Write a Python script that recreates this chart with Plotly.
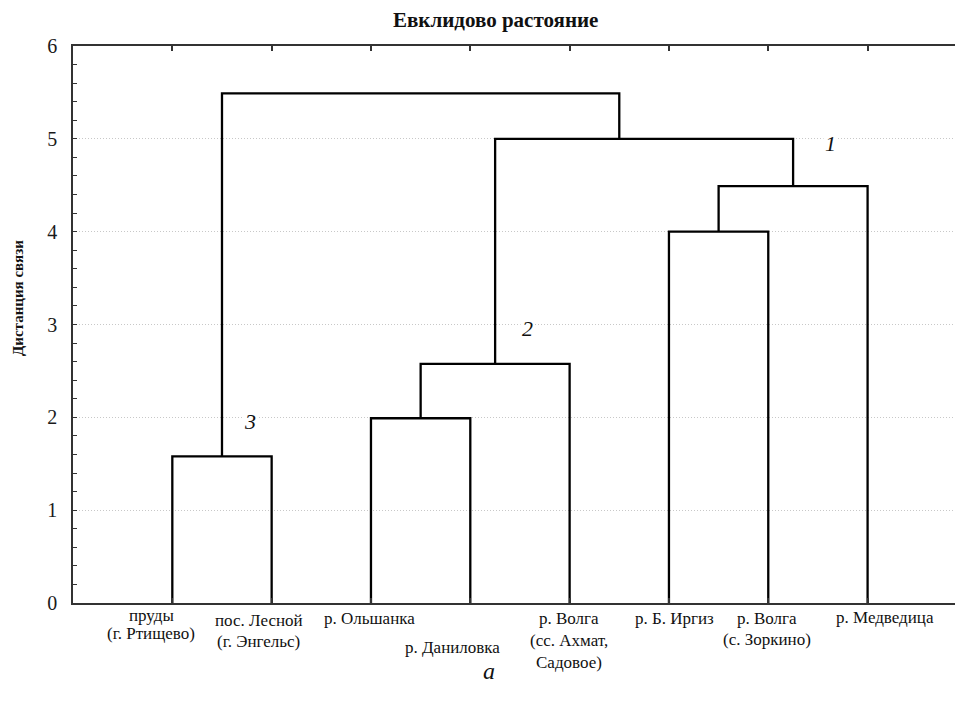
import plotly.graph_objects as go

# ---- data ----
leaf_labels = [
    "пруды<br>(г. Ртищево)",
    "пос. Лесной<br>(г. Энгельс)",
    "р. Ольшанка",
    "р. Даниловка",
    "р. Волга<br>(сс. Ахмат,<br>Садовое)",
    "р. Б. Иргиз",
    "р. Волга<br>(с. Зоркино)",
    "р. Медведица",
]
leaf_ids = ["1", "2", "3", "4", "5", "6", "7", "8"]
leaf_pos = [1, 2, 3, 4, 5, 6, 7, 8]

node_ids = ["A", "B", "C", "D", "E", "F", "G"]
node_left = ["1", "3", "B", "6", "D", "C", "A"]
node_right = ["2", "4", "5", "7", "8", "E", "F"]
node_height = [1.58, 1.99, 2.575, 4.0, 4.49, 5.0, 5.49]
node_pos = [1.5, 3.5, 4.25, 6.5, 7.25, 5.5, 3.5]

cluster_marks = ["1", "2", "3"]
cluster_mark_x = [7.63, 4.575, 1.785]
cluster_mark_y = [4.955, 2.96, 1.96]

y_ticks = [0, 1, 2, 3, 4, 5, 6]

# ---- build ----
pos = {k: v for k, v in zip(leaf_ids, leaf_pos)}
hgt = {k: 0.0 for k in leaf_ids}
for n, x, h in zip(node_ids, node_pos, node_height):
    pos[n] = x
    hgt[n] = h

xs, ys = [], []
for n, l, r, h in zip(node_ids, node_left, node_right, node_height):
    xs += [pos[l], pos[l], pos[r], pos[r], None]
    ys += [hgt[l], h, h, hgt[r], None]

SERIF = "Liberation Serif, Times New Roman, serif"

fig = go.Figure()
fig.add_trace(go.Scatter(x=xs, y=ys, mode="lines",
                         line=dict(color="black", width=2.3),
                         hoverinfo="skip", showlegend=False))

# leaf label styling (pixels): centre shift, first-line centre below axis, line step
lab_xshift = [-21, -13, -1, -18, -1, 6, -1, 17]
lab_first = [12, 17, 15, 44, 15, 15, 15, 14]
lab_step = [18, 21, 21, 21, 22, 21, 21, 21]
for p, t, dx, first, step in zip(leaf_pos, leaf_labels, lab_xshift, lab_first, lab_step):
    for i, line in enumerate(t.split("<br>")):
        fig.add_annotation(x=p, y=0, xref="x", yref="y", text=line, showarrow=False,
                           yanchor="middle", xanchor="center", align="center",
                           xshift=dx, yshift=-(first + i * step),
                           font=dict(family=SERIF, size=17, color="#111"))

for t, x, y in zip(cluster_marks, cluster_mark_x, cluster_mark_y):
    fig.add_annotation(x=x, y=y, xref="x", yref="y", text="<i>" + t + "</i>",
                       showarrow=False, bgcolor="white",
                       font=dict(family=SERIF, size=22, color="#111"))

fig.add_annotation(x=4.19, y=-0.122, xref="x", yref="paper", text="<i>а</i>",
                   showarrow=False, yanchor="middle", borderpad=0,
                   font=dict(family=SERIF, size=24, color="#111"))

fig.add_annotation(x=0.4785, y=1.0467, xref="paper", yref="paper",
                   text="<b>Евклидово растояние</b>", showarrow=False,
                   yanchor="middle", xanchor="center",
                   font=dict(family=SERIF, size=21, color="#111"))

fig.add_annotation(x=-55 / 882, y=(603 - 298) / 557, xref="paper", yref="paper",
                   text="<b>Дистанция связи</b>", showarrow=False, textangle=-90,
                   xanchor="center", yanchor="middle",
                   font=dict(family=SERIF, size=15, color="#111"))

fig.update_layout(
    width=955, height=706,
    margin=dict(l=73, r=0, t=46, b=103),
    paper_bgcolor="white", plot_bgcolor="white",
    showlegend=False,
    xaxis=dict(range=[0, 8.88], showgrid=False, zeroline=False,
               showline=True, linecolor="#333", linewidth=1.5, mirror="ticks",
               ticks="inside", ticklen=5, tickcolor="#333", tickwidth=1.5,
               tickvals=leaf_pos, showticklabels=False),
    yaxis=dict(range=[0, 6], tickvals=y_ticks, showgrid=True,
               gridcolor="#c8c8c8", griddash="1px,2px", gridwidth=1,
               zeroline=False, showline=True, linecolor="#333", linewidth=1.5,
               ticks="inside", ticklen=4, tickcolor="#333",
               ticklabelstandoff=10,
               minor=dict(dtick=0.2, ticks="inside", ticklen=4, tickcolor="#333",
                          showgrid=False),
               tickfont=dict(family=SERIF, size=20, color="#1a1a1a")),
)

fig.write_html("out.html", config={"displayModeBar": False},
               post_script="document.body.style.margin='0';document.body.style.overflow='hidden';")
